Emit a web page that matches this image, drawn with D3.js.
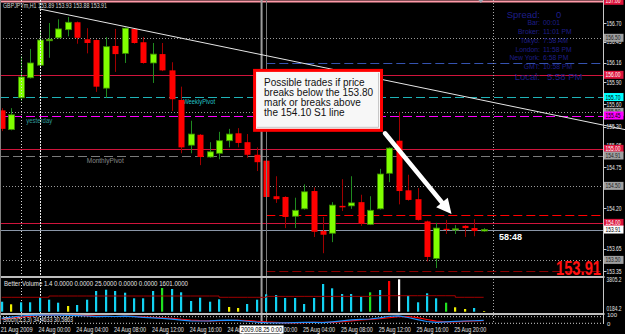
<!DOCTYPE html>
<html><head><meta charset="utf-8">
<script src="https://cdn.jsdelivr.net/npm/d3@7"></script>
<style>
html,body{margin:0;padding:0;background:#000;overflow:hidden}
svg{display:block}
text{font-family:"Liberation Sans",Arial,sans-serif}
</style></head><body>
<svg id="c" width="625" height="334"></svg>
<script>
// ---------------- DATA ----------------
const symbolTitle = "GBPJPYm,H1  153.89 153.93 153.88 153.91";
const opens  = [155.52,155.26,155.69,155.96,156.13,156.46,156.50,156.61,156.71,156.48,156.47,155.82,156.39,156.29,156.62,156.44,156.16,156.28,156.06,155.66,155.05,155.19,154.89,154.94,155.11,155.21,155.09,154.92,154.84,154.36,154.35,154.09,154.19,154.43,153.89,153.86,154.23,154.23,154.28,153.98,154.19,154.67,155.11,154.44,154.32,154.02,153.52,153.92,153.91,153.96,153.93,153.89];
const highs  = [155.55,155.55,156.25,156.35,156.58,156.70,156.75,156.78,156.72,156.63,156.48,156.51,156.62,156.64,156.63,156.51,156.43,156.43,156.17,155.84,155.38,155.20,155.09,155.23,155.27,155.28,155.20,155.02,154.86,154.63,154.36,154.34,154.52,154.48,154.08,154.28,154.59,154.63,154.38,154.36,154.73,155.02,155.50,154.65,154.47,154.03,154.00,154.04,153.97,153.97,154.05,153.93];
const lows   = [155.24,155.25,155.65,155.95,156.12,156.23,156.49,156.52,156.42,156.29,155.77,155.69,156.04,156.16,156.42,156.15,155.89,156.05,155.51,154.94,154.94,154.78,154.88,154.86,155.02,155.02,154.88,154.70,154.33,154.27,153.93,153.93,154.18,153.81,153.59,153.74,154.16,154.19,153.96,153.97,154.18,154.55,154.25,154.30,154.03,153.48,153.39,153.85,153.85,153.81,153.82,153.88];
const closes = [155.27,155.46,155.97,156.16,156.47,156.48,156.62,156.71,156.50,156.43,155.84,156.38,156.28,156.63,156.43,156.16,156.28,156.06,155.67,155.02,155.20,154.89,154.96,155.11,155.20,155.08,154.92,154.82,154.35,154.32,154.08,154.17,154.42,153.88,153.84,154.24,154.21,154.27,153.99,154.17,154.66,155.01,154.43,154.31,154.04,153.54,153.93,153.91,153.92,153.93,153.89,153.91];

const volumes = [1174,869,1104,1104,1691,1409,1057,669,787,1409,2430,2583,2430,2231,1573,1573,2430,2782,2665,2278,1256,1644,1174,1456,552,434,904,1409,2043,1961,1608,1608,904,1608,3252,2747,2078,2078,1761,2278,2548,3604,3805,1878,1104,2160,1573,1057,517,317,434,82];
const volumeType = ["n","low","n","n","n","n","n","low","n","n","n","n","n","n","n","n","n","churn","n","n","n","n","n","n","low","low","n","n","n","n","n","n","n","n","n","n","n","n","n","churn","n","climaxUp","climaxDown","n","n","n","n","churn","low","low","n","low"];
const avgVolume = [1690,1690,1690,1690,1690,1843,1843,1843,1843,1843,1843,1843,1843,1843,1843,1843,1843,1843,1843,1843,1843,1843,1843,1690,1690,1690,1690,1690,1800,1800,1800,1800,1800,1800,1800,1800,1800,1800,1800,1878,1878,1878,1878,1878,1878,1878,1878,1878,1690,1690,1690,1690];
const volumeLabel = "Better Volume 1.4 0.0000 0.0000 25.0000 0.0000 0.0000 1601.0000";
const volumeAxisLabels = ["3805.2","0184.2"];
const volumeAxisValues = [3805.2, 350];

const stochMain   = [60,75,88,96,98,97,98,96,92,88,80,84,82,86,80,72,66,60,50,38,30,28,30,35,38,35,25,15,8,6,5,8,12,10,8,18,30,42,48,52,65,85,90,70,45,22,12,18,24,28,31,34.46];
const stochSignal = [50,62,75,86,94,97,97,97,95,92,87,84,82,84,83,79,73,66,59,49,39,32,29,31,34,36,33,25,16,10,6,6,8,10,10,12,19,30,40,47,55,67,80,82,68,46,26,17,18,23,28,30.59];
const stochLabel = "Stoch(5,3,3) 34.4633 30.5863";

const timeTickIndex  = [0,4,8,12,16,20,24,28,32,36,40,44,48];
const timeTickLabels = ["21 Aug 2009","24 Aug 00:00","24 Aug 04:00","24 Aug 08:00","24 Aug 12:00","24 Aug 16:00","24 Aug 20:00","25 Aug 00:00","25 Aug 04:00","25 Aug 08:00","25 Aug 12:00","25 Aug 16:00","25 Aug 20:00"];
const separatorLabel = "2009.08.25 0:00";
const separatorIndex = 27.5;

const axisPrices = [156.70,156.45,156.16,155.90,155.60,155.30,155.05,154.75,154.20,153.65,153.35];
const boxPrices  = [157.00,156.50,156.00,155.70,155.50,155.45,155.00,154.91,154.50,154.00,153.91,153.50];
const boxKinds   = ["red","gray","red","cyan","gray","magenta","red","gray","gray","red","bid","gray"];

const gridPrices = [156.50,155.50,154.50,153.50];
const vLineIndex = [2,4,52];

const levelPrices = [157.00,156.16,156.00,155.70,155.45,155.00,154.91,154.10,154.00,153.91,153.35];
const levelKinds  = ["top","r1","round","weekly","yesterday","round","monthly","s1","round","bid","s2"];

const levelTexts = ["WeeklyPivot","yesterday","MonthlyPivot"];
const levelTextPrice = [155.70,155.45,154.91];
const levelTextIndex = [19.2,2.6,9];

const trendIdx = [4, 65.96];
const trendPrice = [156.89, 155.26];

const infoLabels = ["Spread:","Bar:","Broker:","Tokyo:","London:","New York:","GMT:","Local:"];
const infoValues = ["0","00:01","11:01 PM","7:58 AM","11:58 PM","6:58 PM","10:58 PM","5:58 PM"];

const noteLines = ["Possible trades if price","breaks below the 153.80","mark or breaks above","the 154.10 S1 line"];
const noteIdx = [26.6, 40.35];
const notePrice = [156.08, 155.23];
const arrowIdx = [40.56, 47.6];
const arrowPrice = [155.21, 154.12];
const countdown = "58:48";
const bigPrice = "153.91";

// ---------------- SCALES ----------------
const svg = d3.select("#c");
const W = 625, H = 334, AX = 603.5;
const x = d3.scaleLinear().domain([0,51]).range([1.7,483.65]);
const y = d3.scaleLinear().domain([156.70,153.35]).range([23,271]);
const yV = d3.scaleLinear().domain([0,3805.2]).range([311.7,279.3]);
const yS = d3.scaleLinear().domain([0,100]).range([323.3,315.0]);
const MAIN_B = 276, VOL_B = 313.5, ST_B = 324;

svg.append("rect").attr("width",W).attr("height",H).attr("fill","#000");
const defs = svg.append("defs");
defs.append("clipPath").attr("id","mainClip").append("rect").attr("x",0).attr("y",0).attr("width",AX).attr("height",MAIN_B);
defs.append("clipPath").attr("id","trendClip").append("rect").attr("x",0).attr("y",0).attr("width",W).attr("height",MAIN_B);

const main = svg.append("g").attr("clip-path","url(#mainClip)");

// grid
main.selectAll(".grid").data(gridPrices).join("line")
  .attr("x1",0).attr("x2",AX).attr("y1",d=>Math.round(y(d))+0.5).attr("y2",d=>Math.round(y(d))+0.5)
  .attr("stroke","#9a9a9a").attr("stroke-dasharray","1,2");

// vertical lines full height
const vStyles = [{c:"#d8d8d8",d:"1,2"},{c:"#e8e8e8",d:"2,1"},{c:"#a8a8a8",d:"1,2"}];
svg.selectAll(".vl").data(vLineIndex).join("line")
  .attr("x1",d=>Math.round(x(d))+0.5).attr("x2",d=>Math.round(x(d))+0.5).attr("y1",0).attr("y2",ST_B)
  .attr("stroke",(d,i)=>vStyles[i].c).attr("stroke-dasharray",(d,i)=>vStyles[i].d);
// day separator lines
svg.append("line").attr("x1",x(separatorIndex)).attr("x2",x(separatorIndex)).attr("y1",0).attr("y2",ST_B)
  .attr("stroke","#9c9c9c").attr("stroke-width",2);
svg.append("line").attr("x1",Math.round(x(28))+0.5).attr("x2",Math.round(x(28))+0.5).attr("y1",0).attr("y2",ST_B)
  .attr("stroke","#7a7a7a").attr("stroke-width",1);

// horizontal levels
const levelStyle = {
  top:{c:"#ff9aa8",d:null,from:0},
  r1:{c:"#3553b0",d:"9,4",from:28},
  round:{c:"#d0143c",d:null,from:0},
  weekly:{c:"#1fb3b8",d:"9,4",from:0},
  yesterday:{c:"#ff00ff",d:"9,4",from:0},
  monthly:{c:"#7a7a7a",d:"9,4",from:0},
  s1:{c:"#ff0000",d:"9,4",from:28},
  bid:{c:"#8a96a8",d:null,from:0},
  s2:{c:"#8c0000",d:"9,4",from:28}
};
main.selectAll(".lvl").data(levelPrices).join("line")
  .attr("x1",(d,i)=>levelStyle[levelKinds[i]].from ? x(levelStyle[levelKinds[i]].from) : 0)
  .attr("x2",AX)
  .attr("y1",d=>Math.round(y(d))+0.5).attr("y2",d=>Math.round(y(d))+0.5)
  .attr("stroke",(d,i)=>levelStyle[levelKinds[i]].c)
  .attr("stroke-width",(d,i)=>levelKinds[i]==="top"?2:1)
  .attr("stroke-dasharray",(d,i)=>levelStyle[levelKinds[i]].d);

// level labels
const lvlTextColor = ["#22c4c8","#2f9a9a","#8a8a8a"];
const lvlTextLen = [32,26,37];
main.selectAll(".lt").data(levelTexts).join("text")
  .attr("x",(d,i)=>x(levelTextIndex[i])).attr("y",(d,i)=>y(levelTextPrice[i])+7)
  .attr("font-size",7.5).attr("fill",(d,i)=>lvlTextColor[i])
  .attr("textLength",(d,i)=>lvlTextLen[i]).attr("lengthAdjust","spacingAndGlyphs")
  .text(d=>d);

// trend line
svg.append("line").attr("clip-path","url(#trendClip)")
  .attr("x1",x(trendIdx[0])).attr("y1",y(trendPrice[0]))
  .attr("x2",x(trendIdx[1])).attr("y2",y(trendPrice[1]))
  .attr("stroke","#e6e6e6").attr("stroke-width",1);

// candles
const bars = d3.range(opens.length);
const cg = main.append("g");
cg.selectAll(".wick").data(bars).join("line")
  .attr("x1",i=>Math.round(x(i))+0.5).attr("x2",i=>Math.round(x(i))+0.5)
  .attr("y1",i=>y(highs[i])).attr("y2",i=>y(lows[i]))
  .attr("stroke",i=>closes[i]>=opens[i]?"#1f8a1f":"#a00000");
cg.selectAll(".body").data(bars).join("rect")
  .attr("x",i=>Math.round(x(i))-2.5).attr("width",6)
  .attr("y",i=>y(Math.max(opens[i],closes[i])))
  .attr("height",i=>Math.max(1.2,Math.abs(y(opens[i])-y(closes[i]))))
  .attr("fill",i=>closes[i]>=opens[i]?"#80ff00":"#ff0000")
  .attr("stroke",i=>closes[i]>=opens[i]?"#3a8a00":"none").attr("stroke-width",0.8);

// title
svg.append("text").attr("x",3).attr("y",8).attr("font-size",7).attr("fill","#d8d8d8")
  .attr("textLength",104).attr("lengthAdjust","spacingAndGlyphs").text(symbolTitle);

// info panel
const infoY = [14.3,22.7,31,40,49,57.7,66.7,76.7];
const big = i => i===0||i===infoLabels.length-1;
svg.selectAll(".il").data(infoLabels).join("text")
  .attr("x",540).attr("y",(d,i)=>infoY[i]+(big(i)?3.3:2.5)).attr("text-anchor","end")
  .attr("font-size",(d,i)=>big(i)?9.5:6.8).attr("fill","#1e1e88").text(d=>d);
svg.selectAll(".iv").data(infoValues).join("text")
  .attr("x",(d,i)=>i===0?556:(i===7?547:543)).attr("y",(d,i)=>infoY[i]+(big(i)?3.3:2.5))
  .attr("font-size",(d,i)=>big(i)?9.5:6.8).attr("fill","#1e1e88").text(d=>d);

// annotation box
const bx0 = x(noteIdx[0]), bx1 = x(noteIdx[1]), by0 = y(notePrice[0]), by1 = y(notePrice[1]);
svg.append("rect").attr("x",bx0+1.5).attr("y",by0+1.5).attr("width",bx1-bx0-3).attr("height",by1-by0-3)
  .attr("fill","#f7f7f7").attr("stroke","#ff0000").attr("stroke-width",3);
svg.append("path").attr("d",`M${bx0+4},${by1-4.5}H${bx1-4.5}V${by0+4}`).attr("fill","none").attr("stroke","#c8c8c8");
svg.selectAll(".nt").data(noteLines).join("text")
  .attr("x",bx0+11).attr("y",(d,i)=>by0+17+i*10).attr("font-size",10).attr("fill","#111").text(d=>d);

// arrow
{
  const ax0=x(arrowIdx[0]), ay0=y(arrowPrice[0]), ax1=x(arrowIdx[1]), ay1=y(arrowPrice[1]);
  const dx=ax1-ax0, dy=ay1-ay0, L=Math.hypot(dx,dy), ux=dx/L, uy=dy/L, px=-uy, py=ux;
  const hl=15, hw=7.5, bxc=ax1-ux*hl, byc=ay1-uy*hl;
  svg.append("line").attr("x1",ax0).attr("y1",ay0).attr("x2",bxc+ux*2).attr("y2",byc+uy*2)
    .attr("stroke","#ffffff").attr("stroke-width",4.5).attr("stroke-linecap","round");
  svg.append("path").attr("d",`M${ax1},${ay1}L${bxc+px*hw},${byc+py*hw}L${bxc-px*hw},${byc-py*hw}Z`).attr("fill","#ffffff");
}

// countdown & big price
svg.append("text").attr("x",499).attr("y",239.5).attr("font-size",9).attr("font-weight","bold").attr("fill","#ffffff")
  .attr("textLength",23).attr("lengthAdjust","spacingAndGlyphs").text(countdown);
svg.append("text").attr("x",556).attr("y",274.5).attr("font-size",20).attr("font-weight","bold").attr("fill","#ff1010")
  .attr("textLength",45).attr("lengthAdjust","spacingAndGlyphs").text(bigPrice);

// window frames
svg.append("line").attr("x1",0).attr("x2",AX+1).attr("y1",MAIN_B+1).attr("y2",MAIN_B+1).attr("stroke","#bdbdbd").attr("stroke-width",2);
svg.append("line").attr("x1",0).attr("x2",AX+1).attr("y1",VOL_B+0.5).attr("y2",VOL_B+0.5).attr("stroke","#bdbdbd").attr("stroke-width",2);
svg.append("line").attr("x1",0.5).attr("x2",0.5).attr("y1",0).attr("y2",ST_B).attr("stroke","#808080");
svg.append("line").attr("x1",AX).attr("x2",AX).attr("y1",0).attr("y2",ST_B).attr("stroke","#c8c8c8");

// volume window
const volColor = {n:"#12d2f2",low:"#f0f000",churn:"#20e020",climaxUp:"#ff0000",climaxDown:"#ffffff"};
svg.selectAll(".vb").data(bars).join("rect")
  .attr("x",i=>Math.round(x(i))-1).attr("width",2.2)
  .attr("y",i=>yV(volumes[i])).attr("height",i=>yV(0)-yV(volumes[i]))
  .attr("fill",i=>volColor[volumeType[i]]);
svg.append("path").datum(bars)
  .attr("d",d3.line().x(i=>x(i)).y(i=>yV(avgVolume[i])).curve(d3.curveStepAfter))
  .attr("fill","none").attr("stroke","#a00000").attr("stroke-width",1);
svg.append("text").attr("x",4).attr("y",285.8).attr("font-size",6.8).attr("fill","#e0e0e0")
  .attr("textLength",184).attr("lengthAdjust","spacingAndGlyphs").text(volumeLabel);

// stochastic window
svg.append("line").attr("x1",0).attr("x2",AX).attr("y1",yS(80)).attr("y2",yS(80)).attr("stroke","#cfcfcf").attr("stroke-dasharray","1,2");
svg.append("line").attr("x1",0).attr("x2",AX).attr("y1",yS(0)).attr("y2",yS(0)).attr("stroke","#cfcfcf").attr("stroke-dasharray","1,2");
svg.append("path").datum(bars).attr("d",d3.line().x(i=>x(i)).y(i=>yS(stochSignal[i])))
  .attr("fill","none").attr("stroke","#ff0000").attr("stroke-width",1.2);
svg.append("path").datum(bars).attr("d",d3.line().x(i=>x(i)).y(i=>yS(stochMain[i])))
  .attr("fill","none").attr("stroke","#1e90ff").attr("stroke-width",1.2);
svg.append("text").attr("x",3).attr("y",322.3).attr("font-size",6.5).attr("fill","#e8e8e8")
  .attr("textLength",70).attr("lengthAdjust","spacingAndGlyphs").text(stochLabel);

// time axis
svg.selectAll(".tl").data(timeTickIndex).join("text")
  .attr("x",i=>x(i)-1).attr("y",331.5).attr("font-size",7).attr("fill","#e0e0e0")
  .attr("textLength",32).attr("lengthAdjust","spacingAndGlyphs")
  .text((d,i)=>timeTickLabels[i]);
const sx = x(separatorIndex);
svg.append("rect").attr("x",sx-22).attr("y",325.5).attr("width",44).attr("height",8).attr("fill","#ffffff");
svg.append("text").attr("x",sx).attr("y",331.8).attr("text-anchor","middle").attr("font-size",7).attr("fill","#000")
  .attr("textLength",41).attr("lengthAdjust","spacingAndGlyphs").text(separatorLabel);

// right price axis
svg.selectAll(".pt").data(axisPrices).join("line")
  .attr("x1",AX).attr("x2",AX+3).attr("y1",d=>Math.round(y(d))+0.5).attr("y2",d=>Math.round(y(d))+0.5).attr("stroke","#c8c8c8");
svg.selectAll(".pl").data(axisPrices).join("text")
  .attr("x",606.5).attr("y",d=>y(d)+2.5).attr("font-size",6.8).attr("fill","#e8e8e8")
  .attr("textLength",15).attr("lengthAdjust","spacingAndGlyphs").text(d=>d.toFixed(2));
const boxStyle = {red:{bg:"#dc143c",fg:"#ffffff"},gray:{bg:"#a0a0a0",fg:"#222"},cyan:{bg:"#00ffff",fg:"#000"},magenta:{bg:"#ff00ff",fg:"#000"},bid:{bg:"#ffffff",fg:"#000"}};
const bxg = svg.selectAll(".bx").data(boxPrices).join("g");
bxg.append("rect").attr("x",AX+0.5).attr("y",d=>y(d)-4).attr("width",19.5).attr("height",8)
  .attr("fill",(d,i)=>boxStyle[boxKinds[i]].bg);
bxg.append("text").attr("x",605.5).attr("y",d=>y(d)+2.5).attr("font-size",6.8)
  .attr("fill",(d,i)=>boxStyle[boxKinds[i]].fg)
  .attr("textLength",15).attr("lengthAdjust","spacingAndGlyphs").text(d=>d.toFixed(2));

// volume axis labels
svg.selectAll(".va").data(volumeAxisLabels).join("text")
  .attr("x",606.5).attr("y",(d,i)=>yV(volumeAxisValues[i])+2.5).attr("font-size",6.5).attr("fill","#e0e0e0")
  .attr("textLength",15).attr("lengthAdjust","spacingAndGlyphs").text(d=>d);
// stoch axis labels
svg.selectAll(".sa").data([100,0]).join("text")
  .attr("x",607).attr("y",d=>yS(d)+2.3).attr("font-size",6).attr("fill","#e0e0e0").text(d=>d);

// chart shift marker
svg.append("path").attr("d",`M${x(50.7)-2.5},0L${x(50.7)+2.5},0L${x(50.7)},3Z`).attr("fill","#9aa4b0");
</script>
</body></html>
